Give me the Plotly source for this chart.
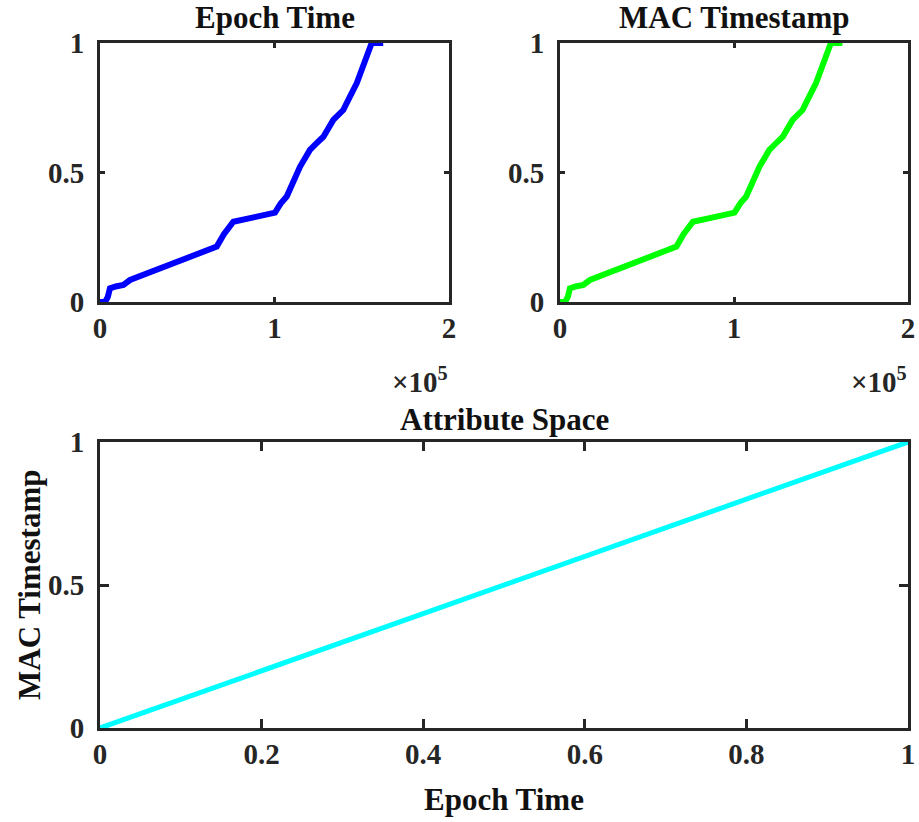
import plotly.graph_objects as go

# ---- data ----
epoch_x = [0, 2900, 4500, 5700, 9000, 13400, 17200, 22000, 28700, 37000,
           45800, 57300, 66900, 71000, 76400, 88000, 100300, 103500, 107000,
           114600, 120300, 124000, 128000, 133700, 139400, 143000, 147100,
           151000, 154700, 155700, 162300]
epoch_y = [0, 0, 0.02, 0.053, 0.060, 0.066, 0.085, 0.097, 0.117, 0.140,
           0.162, 0.185, 0.214, 0.262, 0.310, 0.327, 0.345, 0.380, 0.407,
           0.522, 0.587, 0.612, 0.638, 0.703, 0.741, 0.790, 0.844,
           0.915, 0.986, 1.0, 1.0]
mac_x = [0, 2900, 4500, 5700, 9000, 13400, 17200, 22000, 28700, 37000,
         45800, 57300, 66900, 71000, 76400, 88000, 100300, 103500, 107000,
         114600, 120300, 124000, 128000, 133700, 139400, 143000, 147100,
         151000, 154700, 155700, 162300]
mac_y = [0, 0, 0.02, 0.053, 0.060, 0.066, 0.085, 0.097, 0.117, 0.140,
         0.162, 0.185, 0.214, 0.262, 0.310, 0.327, 0.345, 0.380, 0.407,
         0.522, 0.587, 0.612, 0.638, 0.703, 0.741, 0.790, 0.844,
         0.915, 0.986, 1.0, 1.0]
attr_x = [0, 1]
attr_y = [0, 1]

top_xticks = [0, 100000, 200000]
top_xticktext = ["0", "1", "2"]
cdf_yticks = [0, 0.5, 1]
cdf_yticktext = ["0", "0.5", "1"]
bot_xticks = [0, 0.2, 0.4, 0.6, 0.8, 1]
bot_xticktext = ["0", "0.2", "0.4", "0.6", "0.8", "1"]

titles = ["Epoch Time", "MAC Timestamp", "Attribute Space"]
xlabel3 = "Epoch Time"
ylabel3 = "MAC Timestamp"

FONT = "Liberation Serif"
AX = "#262626"
TICKF = dict(family=FONT, size=29, color=AX, weight="bold")
LABF = dict(family=FONT, size=31, color="#111111", weight="bold")

fig = go.Figure()
fig.add_trace(go.Scatter(x=epoch_x, y=epoch_y, mode="lines",
                         line=dict(color="#0000FF", width=6),
                         xaxis="x", yaxis="y", showlegend=False))
fig.add_trace(go.Scatter(x=mac_x, y=mac_y, mode="lines",
                         line=dict(color="#00FF00", width=6),
                         xaxis="x2", yaxis="y2", showlegend=False))
fig.add_trace(go.Scatter(x=attr_x, y=attr_y, mode="lines",
                         line=dict(color="#00FFFF", width=5),
                         xaxis="x3", yaxis="y3", showlegend=False))

def xax(domain, anchor, rng, tv, tt, tl):
    return dict(domain=domain, anchor=anchor, range=rng, tickmode="array",
                tickvals=tv, ticktext=tt, ticks="inside", ticklen=tl,
                tickwidth=3, tickcolor=AX, showline=True, linewidth=3,
                linecolor=AX, mirror="allticks", showgrid=False,
                zeroline=False, tickfont=TICKF, ticklabelstandoff=-2,
                fixedrange=True, automargin=False)

def yax(domain, anchor, rng, tl):
    return dict(domain=domain, anchor=anchor, range=rng, tickmode="array",
                tickvals=cdf_yticks, ticktext=cdf_yticktext, ticks="inside",
                ticklen=tl, tickwidth=3, tickcolor=AX, showline=True,
                linewidth=3, linecolor=AX, mirror="allticks", showgrid=False,
                zeroline=False, tickfont=TICKF, ticklabelstandoff=7,
                fixedrange=True, automargin=False)

xd1 = [100 / 919, 449 / 919]
xd2 = [560 / 919, 908 / 919]
xd3 = [100 / 919, 908 / 919]
yd_top = [1 - 302 / 822, 1 - 43 / 822]
yd_bot = [1 - 728 / 822, 1 - 442 / 822]

fig.update_layout(
    width=919, height=822,
    margin=dict(l=0, r=0, t=0, b=0, autoexpand=False),
    paper_bgcolor="white", plot_bgcolor="white",
    xaxis=xax(xd1, "y", [0, 200000], top_xticks, top_xticktext, 5),
    yaxis=yax(yd_top, "x", [0, 1], 5),
    xaxis2=xax(xd2, "y2", [0, 200000], top_xticks, top_xticktext, 5),
    yaxis2=yax(yd_top, "x2", [0, 1], 5),
    xaxis3=xax(xd3, "y3", [0, 1], bot_xticks, bot_xticktext, 9),
    yaxis3=yax(yd_bot, "x3", [0, 1], 9),
)

ann = []
ann.append(dict(text=titles[0], x=(xd1[0] + xd1[1]) / 2, y=1 - 17 / 822,
                xref="paper", yref="paper", showarrow=False, font=LABF,
                xanchor="center", yanchor="middle"))
ann.append(dict(text=titles[1], x=(xd2[0] + xd2[1]) / 2, y=1 - 17 / 822,
                xref="paper", yref="paper", showarrow=False, font=LABF,
                xanchor="center", yanchor="middle"))
ann.append(dict(text=titles[2], x=(xd3[0] + xd3[1]) / 2, y=1 - 419 / 822,
                xref="paper", yref="paper", showarrow=False, font=LABF,
                xanchor="center", yanchor="middle"))
ann.append(dict(text=xlabel3, x=(xd3[0] + xd3[1]) / 2, y=1 - 799 / 822,
                xref="paper", yref="paper", showarrow=False, font=LABF,
                xanchor="center", yanchor="middle"))
ann.append(dict(text=ylabel3, x=29 / 919, y=1 - 585 / 822, textangle=-90,
                xref="paper", yref="paper", showarrow=False, font=LABF,
                xanchor="center", yanchor="middle"))
for xr in (450 / 919, 909 / 919):
    ann.append(dict(text="×10<sup>5</sup>", x=xr, y=1 - 380 / 822,
                    xref="paper", yref="paper", showarrow=False,
                    font=dict(family=FONT, size=29, color=AX, weight="bold"),
                    xanchor="right", yanchor="middle"))
fig.update_layout(annotations=ann)

fig.write_html("out.html")
